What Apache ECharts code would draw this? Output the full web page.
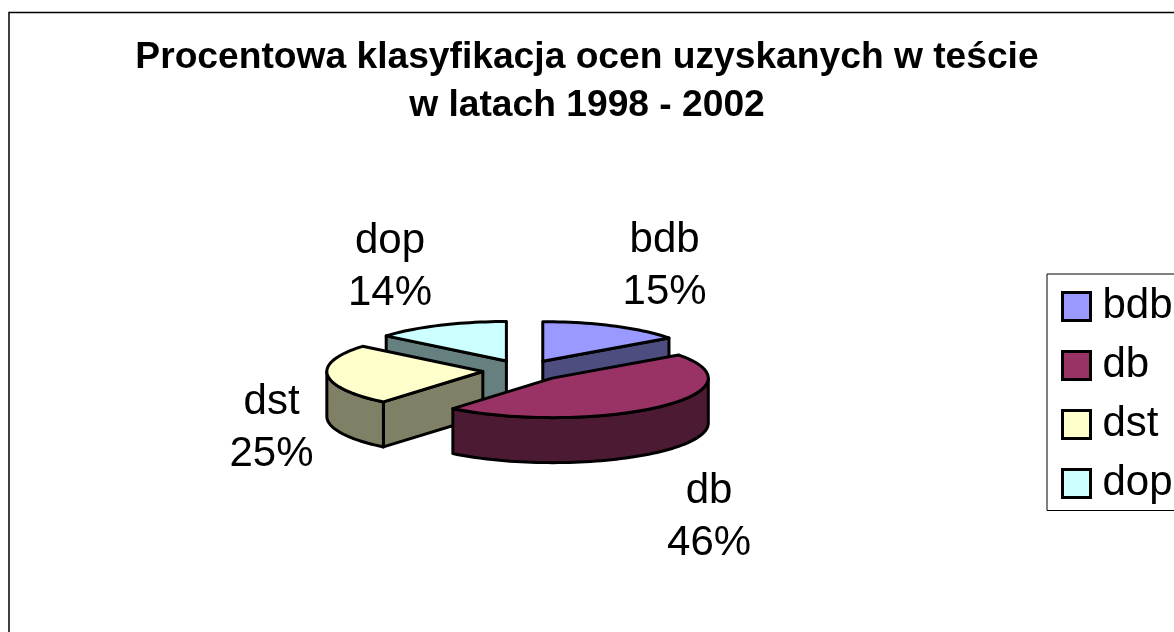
<!DOCTYPE html>
<html>
<head>
<meta charset="utf-8">
<style>
html, body { margin: 0; padding: 0; background: #fff; overflow: hidden; }
#chart { width: 1174px; height: 632px; }
</style>
<script src="https://cdn.jsdelivr.net/npm/echarts@6/dist/echarts.min.js"></script>
</head>
<body>
<div id="chart"></div>
<script>
var titleText = 'Procentowa klasyfikacja ocen uzyskanych w teście\nw latach 1998 - 2002';
var categories = ['bdb', 'db', 'dst', 'dop'];
var values = [15, 46, 25, 14];

var topColors = ['#9999FF', '#993366', '#FFFFCC', '#CCFFFF'];
var sideColors = ['#4D4D80', '#4D1A33', '#808066', '#668080'];

// painter's order, back slices first
var drawOrder = [3, 0, 2, 1];

// where each label sits relative to the rim point of its slice
var labelOffsets = [[51, -60], [50, 110], [-56, 53], [-50, -58]];

var FONT = '"Liberation Sans", Arial, sans-serif';
var pie = { cx: 524, cy: 370.5, rx: 156, ry: 39.5, depth: 45, explode: 0.265 };

var total = 0;
values.forEach(function (v) { total += v; });

function toRad(deg) { return deg * Math.PI / 180; }

// angles are clockwise from the top, as in the original chart
function slicePoint(c, angle, r) {
    var a = toRad(angle);
    return [c[0] + pie.rx * r * Math.sin(a), c[1] - pie.ry * r * Math.cos(a)];
}

function arcPoints(c, from, to) {
    var pts = [];
    var steps = Math.max(2, Math.ceil((to - from) / 2));
    for (var i = 0; i <= steps; i++) {
        pts.push(slicePoint(c, from + (to - from) * i / steps, 1));
    }
    return pts;
}

function down(p) { return [p[0], p[1] + pie.depth]; }

function makeWall(points, color, z2) {
    var lower = points.map(down).reverse();
    return {
        type: 'polygon',
        z2: z2,
        shape: { points: points.concat(lower) },
        style: { fill: color, stroke: '#000', lineWidth: 3, lineJoin: 'round' }
    };
}

function renderSlice(index, start, end, z2) {
    var mid = (start + end) / 2;
    var c = slicePoint([pie.cx, pie.cy], mid, pie.explode);
    var kids = [];

    // only walls that face the viewer get painted
    if (Math.sin(toRad(start)) < -1e-6) {
        kids.push(makeWall([c, slicePoint(c, start, 1)], sideColors[index], z2));
    }
    if (Math.sin(toRad(end)) > 1e-6) {
        kids.push(makeWall([c, slicePoint(c, end, 1)], sideColors[index], z2));
    }
    var from = Math.max(start, 90), to = Math.min(end, 270);
    if (to > from) {
        kids.push(makeWall(arcPoints(c, from, to), sideColors[index], z2));
    }

    kids.push({
        type: 'polygon',
        z2: z2 + 1,
        shape: { points: [c].concat(arcPoints(c, start, end)) },
        style: { fill: topColors[index], stroke: '#000', lineWidth: 3, lineJoin: 'round' }
    });

    var rim = slicePoint(c, mid, 1);
    kids.push({
        type: 'text',
        z2: 100,
        x: rim[0] + labelOffsets[index][0],
        y: rim[1] + labelOffsets[index][1],
        style: {
            text: categories[index] + '\n' + Math.round(values[index] / total * 100) + '%',
            font: '42px ' + FONT,
            lineHeight: 52,
            fill: '#000',
            align: 'center',
            verticalAlign: 'middle'
        }
    });
    return { type: 'group', children: kids };
}

function buildSeries() {
    var angles = [], sum = 0;
    values.forEach(function (v) {
        var start = sum / total * 360;
        sum += v;
        angles.push([start, sum / total * 360]);
    });

    return drawOrder.map(function (index, order) {
        return {
            name: categories[index],
            type: 'custom',
            coordinateSystem: 'none',
            silent: true,
            itemStyle: { color: topColors[index] },
            data: [values[index]],
            renderItem: function () {
                return renderSlice(index, angles[index][0], angles[index][1], 10 + order * 10);
            }
        };
    });
}

var chart = echarts.init(document.getElementById('chart'));

chart.setOption({
    animation: false,
    backgroundColor: '#fff',
    title: {
        text: titleText,
        left: 582,
        top: 29,
        textAlign: 'center',
        textStyle: {
            fontFamily: FONT,
            fontWeight: 'bold',
            fontSize: 37.2,
            lineHeight: 48,
            color: '#000'
        }
    },
    legend: {
        orient: 'vertical',
        left: 1047,
        top: 274,
        padding: [11.5, 14, 6, 14],
        itemWidth: 28,
        itemHeight: 28,
        itemGap: 17,
        icon: 'rect',
        data: categories,
        selectedMode: false,
        backgroundColor: '#fff',
        borderColor: '#000',
        borderWidth: 1,
        itemStyle: { borderColor: '#000', borderWidth: 3 },
        textStyle: { fontFamily: FONT, fontSize: 42, color: '#000', padding: [0, 0, 0, 7] }
    },
    graphic: [{
        type: 'rect',
        silent: true,
        shape: { x: 9, y: 12.5, width: 1400, height: 900 },
        style: { fill: 'none', stroke: '#000', lineWidth: 1.5 }
    }],
    series: buildSeries()
});
</script>
</body>
</html>
